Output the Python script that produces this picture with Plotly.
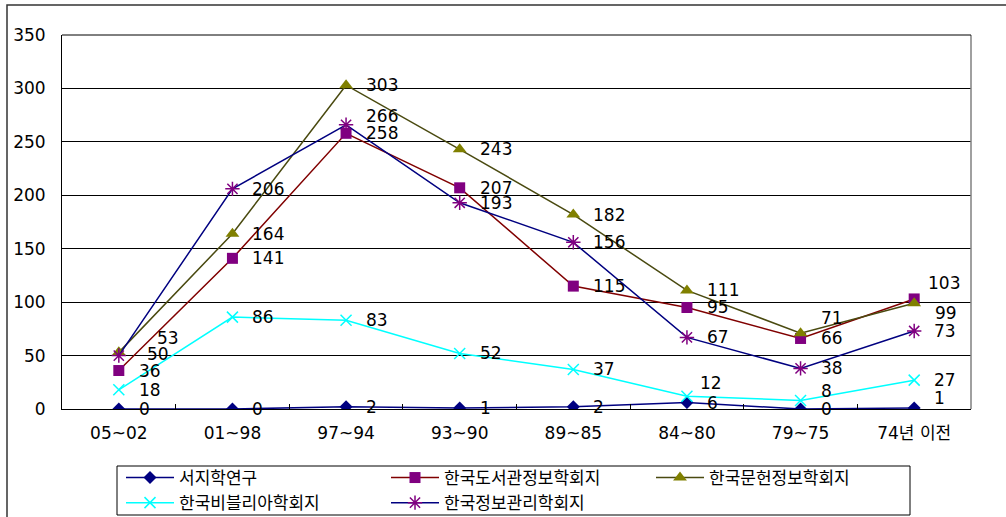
import plotly.graph_objects as go

# Publication period groups (x axis)
categories = ["05~02", "01~98", "97~94", "93~90", "89~85", "84~80", "79~75", "74년 이전"]

# Article counts per journal
seoji = [0, 0, 2, 1, 2, 6, 0, 1]
dosgwan = [36, 141, 258, 207, 115, 95, 66, 103]
munheon = [53, 164, 303, 243, 182, 111, 71, 99]
biblia = [18, 86, 83, 52, 37, 12, 8, 27]
jeongbo = [50, 206, 266, 193, 156, 67, 38, 73]

series_names = ["서지학연구", "한국도서관정보학회지", "한국문헌정보학회지",
                "한국비블리아학회지", "한국정보관리학회지"]
y_ticks = [0, 50, 100, 150, 200, 250, 300, 350]

# Plot-area geometry in pixels
W, H = 1006, 517
ML, MR, MT, MB = 62, 35, 35, 108
PW, PH = W - ML - MR, H - MT - MB


def px_x(px):
    return (px - ML) / PW


def px_y(py):
    return (MT + PH - py) / PH


NUM_FONT = "DejaVu Sans, Noto Sans CJK KR, sans-serif"
KR_FONT = "Noto Sans CJK KR, sans-serif"

styles = [
    dict(line=dict(color="#000080", width=1.5),
         marker=dict(symbol="diamond", size=10, color="#000080")),
    dict(line=dict(color="#800000", width=1.5),
         marker=dict(symbol="square", size=11, color="#800080")),
    dict(line=dict(color="#4a4a10", width=1.5),
         marker=dict(symbol="triangle-up", size=12, color="#808000")),
    dict(line=dict(color="#00FFFF", width=1.5),
         marker=dict(symbol="x-thin-open", size=11, color="#00FFFF",
                     line=dict(color="#00FFFF", width=1.5))),
    dict(line=dict(color="#000080", width=1.5),
         marker=dict(symbol="asterisk-open", size=12, color="#800080",
                     line=dict(color="#800080", width=1.5))),
]

all_series = [seoji, dosgwan, munheon, biblia, jeongbo]

# Per-point label nudges (dx, dy in px); default sits just right of the marker
label_nudge = {
    0: {7: (18, 10)},
    1: {7: (12, 16)},
    2: {0: (36, 14), 6: (18, 15), 7: (19, -10)},
    3: {5: (11, 13), 6: (18, 9)},
    4: {0: (26, 2), 2: (18, 9)},
}

fig = go.Figure()
for i, (name, vals) in enumerate(zip(series_names, all_series)):
    fig.add_trace(go.Scatter(x=categories, y=vals, name=name, mode="lines+markers",
                             **styles[i]))

annotations = []
for i, vals in enumerate(all_series):
    for j, v in enumerate(vals):
        dx, dy = label_nudge.get(i, {}).get(j, (18, 0))
        annotations.append(dict(
            x=categories[j], y=v, xref="x", yref="y", text=str(v),
            showarrow=False, xanchor="left", yanchor="middle",
            xshift=dx, yshift=dy,
            font=dict(family=NUM_FONT, size=17, color="#000000")))

shapes = [
    # outer chart frame
    dict(type="rect", xref="paper", yref="paper",
         x0=px_x(7), x1=px_x(1010), y0=px_y(540), y1=px_y(5),
         line=dict(color="#333333", width=1.5), layer="below"),
    # legend frame
    dict(type="rect", xref="paper", yref="paper",
         x0=px_x(117), x1=px_x(910), y0=px_y(515), y1=px_y(466),
         line=dict(color="#000000", width=1), fillcolor="white", layer="below"),
    # plot-area right edge
    dict(type="line", xref="paper", yref="paper", x0=1, x1=1, y0=0, y1=1,
         line=dict(color="#808080", width=1.5)),
    # plot-area top edge
    dict(type="line", xref="paper", yref="paper", x0=0, x1=1, y0=1, y1=1,
         line=dict(color="#000000", width=1)),
]

fig.update_layout(
    width=W, height=H,
    margin=dict(l=ML, r=MR, t=MT, b=MB, pad=0, autoexpand=False),
    paper_bgcolor="white", plot_bgcolor="white",
    showlegend=True,
    legend=dict(orientation="h", x=px_x(121), y=px_y(460),
                xanchor="left", yanchor="top",
                borderwidth=0, bgcolor="rgba(0,0,0,0)",
                font=dict(family=KR_FONT, size=17, color="#000000"),
                itemwidth=48, entrywidth=202, entrywidthmode="pixels",
                tracegroupgap=0),
    annotations=annotations,
    shapes=shapes,
)

fig.update_xaxes(
    type="category", range=[-0.5, len(categories) - 0.5],
    showline=True, linecolor="#000000", linewidth=1,
    ticks="inside", ticklen=5, tickcolor="#000000", tickson="boundaries",
    showgrid=False, ticklabelstandoff=9,
    tickfont=dict(family=NUM_FONT, size=17, color="#000000"),
)
fig.update_yaxes(
    range=[0, 350], tickvals=y_ticks,
    showline=True, linecolor="#000000", linewidth=1,
    showgrid=True, gridcolor="#000000", gridwidth=1, zeroline=False,
    ticks="", ticklabelstandoff=12,
    tickfont=dict(family=NUM_FONT, size=17, color="#000000"),
)

fig.write_html("out.html")
